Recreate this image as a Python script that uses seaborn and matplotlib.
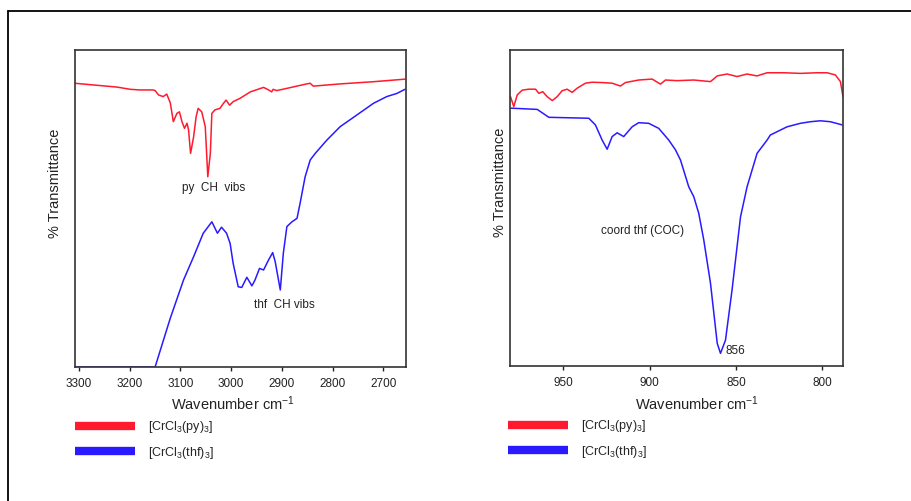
import matplotlib
matplotlib.use("Agg")
import matplotlib.pyplot as plt
from matplotlib.lines import Line2D
import seaborn as sns
import pandas as pd

# ---------------- data (wavenumber cm-1, % transmittance, arbitrary scale) ----------------
# Left panel: C-H stretching region
py_ch_wn = [3308, 3225, 3199, 3180, 3154, 3150, 3143, 3134, 3127, 3120, 3114, 3107, 3102,
            3097, 3092, 3087, 3084, 3080, 3074, 3069, 3065, 3058, 3051, 3046, 3041, 3038,
            3032, 3022, 3015, 3010, 3003, 2996, 2982, 2962, 2936, 2926, 2920, 2917, 2910,
            2890, 2851, 2844, 2838, 2785, 2719, 2657]
py_ch_t = [89.5, 88.3, 87.6, 87.4, 87.4, 87.2, 85.8, 85.3, 86.1, 83.3, 77.4, 80.0, 80.5,
           77.4, 75.3, 76.9, 74.8, 67.4, 72.6, 79.0, 81.6, 80.5, 75.8, 60.0, 67.4, 80.0,
           81.1, 81.6, 83.2, 84.2, 82.6, 83.7, 84.8, 86.8, 88.2, 87.4, 86.8, 87.6, 87.2,
           87.9, 89.3, 89.5, 88.6, 89.3, 90.0, 90.8]

thf_ch_wn = [3308, 3150, 3120, 3094, 3074, 3055, 3038, 3027, 3019, 3009, 3002, 2996, 2986,
             2979, 2969, 2959, 2953, 2944, 2936, 2926, 2918, 2913, 2903, 2897, 2890, 2880,
             2870, 2864, 2854, 2844, 2834, 2811, 2785, 2752, 2719, 2693, 2673, 2657]
thf_ch_t = [0.0, 0.0, 15.4, 27.4, 34.8, 42.2, 45.8, 42.2, 44.1, 42.2, 39.0, 32.7, 25.3,
            25.1, 28.3, 25.6, 27.4, 31.1, 30.6, 33.8, 36.1, 33.2, 24.3, 35.9, 44.3, 45.8,
            46.9, 51.6, 60.0, 65.3, 67.4, 71.6, 75.8, 79.5, 83.2, 85.3, 86.3, 87.6]

# Right panel: C-O-C region
py_coc_wn = [980.7, 978.8, 976.8, 973.9, 970.1, 966.2, 964.3, 962.0, 959.4, 956.5, 953.7,
             950.8, 947.9, 945.0, 942.1, 937.3, 933.4, 927.6, 921.8, 917.0, 914.1, 906.4,
             898.6, 893.8, 890.9, 884.1, 874.5, 864.8, 860.9, 855.2, 849.4, 843.6, 837.8,
             832.0, 822.4, 812.7, 803.0, 797.2, 792.4, 789.5, 788.0]
py_coc_t = [85.2, 82.1, 85.8, 87.3, 87.6, 87.6, 86.3, 86.8, 85.2, 84.0, 85.2,
            87.1, 87.6, 86.6, 87.9, 89.5, 89.8, 89.7, 89.5, 88.6, 89.7, 90.5,
            90.8, 89.2, 90.5, 90.3, 90.5, 90.0, 91.8, 92.4, 91.6, 92.4, 91.8,
            92.8, 92.8, 92.6, 92.8, 92.8, 92.1, 90.0, 85.2]

thf_coc_wn = [980.7, 965.2, 958.5, 935.3, 931.5, 927.6, 924.7, 921.8, 918.9, 915.1, 910.2,
              906.4, 900.6, 894.8, 889.0, 885.1, 882.2, 877.4, 874.5, 871.6, 868.7, 864.8,
              860.9, 859.0, 856.1, 852.3, 847.4, 843.6, 837.8, 832.0, 830.1, 820.4, 812.7,
              806.9, 801.1, 795.3, 788.5]
thf_coc_t = [81.6, 81.2, 78.7, 78.4, 76.3, 71.5, 68.6, 72.6, 73.8, 72.6, 75.7,
             77.0, 76.8, 75.2, 71.5, 68.4, 65.2, 56.7, 53.6, 48.3, 39.9, 26.2,
             7.2, 4.0, 8.2, 24.1, 47.2, 56.7, 67.3, 71.5, 73.1, 75.7, 76.8,
             77.3, 77.6, 77.3, 76.3]

left_ticks = [3300, 3200, 3100, 3000, 2900, 2800, 2700]
right_ticks = [950, 900, 850, 800]
series_labels = [r"[CrCl$_3$(py)$_3$]", r"[CrCl$_3$(thf)$_3$]"]
red = "#ff1a2e"
blue = "#2a1aff"

# ---------------- figure ----------------
sns.set_style("white")
plt.rcParams["font.family"] = ["Liberation Sans", "DejaVu Sans"]
plt.rcParams["mathtext.fontset"] = "custom"
plt.rcParams["mathtext.rm"] = "Liberation Sans"
plt.rcParams["mathtext.it"] = "Liberation Sans"

fig = plt.figure(figsize=(9.11, 5.01), dpi=100)
fig.patch.set_facecolor("white")

axL = fig.add_axes([75 / 911, 1 - 367 / 501, 331 / 911, 317 / 501])
axR = fig.add_axes([510 / 911, 1 - 366 / 501, 333 / 911, 316 / 501])

def style_axes(ax, xlim, ticks):
    ax.set_xlim(*xlim)
    ax.set_ylim(0, 100)
    ax.set_xticks(ticks)
    ax.set_xticklabels([str(t) for t in ticks])
    ax.set_yticks([])
    ax.tick_params(axis="x", direction="out", length=3, width=1, pad=5,
                   labelsize=8.5, colors="#222222", bottom=True)
    for s in ax.spines.values():
        s.set_color("#333333")
        s.set_linewidth(1.2)
    ax.set_xlabel(r"Wavenumber cm$^{-1}$", fontsize=10.5, color="#222222")
    ax.set_ylabel("% Transmittance", fontsize=10.5, color="#222222")

# left panel
dL1 = pd.DataFrame({"wn": py_ch_wn, "T": py_ch_t})
dL2 = pd.DataFrame({"wn": thf_ch_wn, "T": thf_ch_t})
sns.lineplot(data=dL1, x="wn", y="T", ax=axL, color=red, lw=1.1,
             estimator=None, sort=False, label=series_labels[0])
sns.lineplot(data=dL2, x="wn", y="T", ax=axL, color=blue, lw=1.1,
             estimator=None, sort=False, label=series_labels[1])
style_axes(axL, (3308, 2655), left_ticks)
axL.xaxis.set_label_coords(0.477, -0.085)
axL.yaxis.set_label_coords(-0.039, 0.58)
axL.text(3035, 56.5, "py  CH  vibs", fontsize=8.5, ha="center", va="center", color="#222222")
axL.text(2895, 19.6, "thf  CH vibs", fontsize=8.5, ha="center", va="center", color="#222222")

# right panel
dR1 = pd.DataFrame({"wn": py_coc_wn, "T": py_coc_t})
dR2 = pd.DataFrame({"wn": thf_coc_wn, "T": thf_coc_t})
sns.lineplot(data=dR1, x="wn", y="T", ax=axR, color=red, lw=1.1,
             estimator=None, sort=False, label=series_labels[0])
sns.lineplot(data=dR2, x="wn", y="T", ax=axR, color=blue, lw=1.1,
             estimator=None, sort=False, label=series_labels[1])
style_axes(axR, (981, 788), right_ticks)
axR.xaxis.set_label_coords(0.56, -0.09)
axR.yaxis.set_label_coords(-0.009, 0.58)
axR.text(904, 42.7, "coord thf (COC)", fontsize=8.5, ha="center", va="center", color="#222222")
axR.text(856.1, 4.7, "856", fontsize=8.5, ha="left", va="center", color="#222222")

# legends below each panel
for ax, x0 in ((axL, 0.0), (axR, -0.006)):
    leg = ax.legend(loc="upper left", bbox_to_anchor=(x0, -0.165), frameon=False,
                    fontsize=9, handlelength=4.8, handletextpad=1.0,
                    labelspacing=0.75, borderpad=0, borderaxespad=0)
    for h in leg.get_lines():
        h.set_linewidth(6)
        h.set_solid_capstyle("butt")

# outer frame (top and left edges visible)
fig.add_artist(Line2D([8 / 911, 8 / 911], [0, 1 - 11 / 501], transform=fig.transFigure,
                      color="black", lw=1.3))
fig.add_artist(Line2D([8 / 911, 1], [1 - 11 / 501, 1 - 11 / 501], transform=fig.transFigure,
                      color="black", lw=1.3))

fig.savefig("out.png", dpi=100)
